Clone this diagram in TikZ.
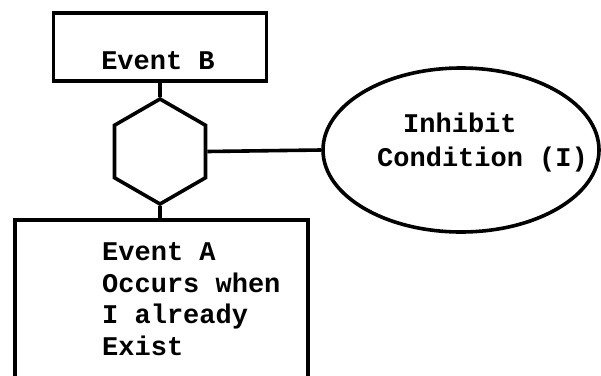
\documentclass[tikz,border=0pt]{standalone}
\usepackage{fontspec}
\setmonofont{Liberation Mono}
\usetikzlibrary{shapes.geometric}
\begin{document}
\begin{tikzpicture}[x=1pt,y=-1pt,
  outline/.style={draw=black,line width=3.6pt},
  eventbox/.style={outline,rectangle,inner sep=0pt},
  gatehex/.style={outline,regular polygon,regular polygon sides=6,
    shape border rotate=30,minimum size=105pt,inner sep=0pt},
  condoval/.style={outline,ellipse,inner sep=0pt},
  wire/.style={line width=3.6pt},
  label/.style={font=\ttfamily\bfseries\fontsize{27}{32}\selectfont,inner sep=0pt}]
\useasboundingbox (0,0) rectangle (601,375);
% top event
\node[eventbox,minimum width=213pt,minimum height=68pt] (evB) at (160,47) {};
\node[label,anchor=base] (evBtxt) at (158,69) {Event B};
% inhibit gate
\node[gatehex] (gate) at (160,151.5) {};
% inhibit condition
\node[condoval,minimum width=276pt,minimum height=164pt] (cond) at (461,150) {};
\node[label,anchor=base west] (condA) at (403,132) {Inhibit};
\node[label,anchor=base west] (condB) at (377,166) {Condition (I)};
% lower event, running off the bottom edge
\node[eventbox,minimum width=293pt,minimum height=200pt] (evA) at (161.5,320) {};
\node[label,anchor=base west] (evA1) at (102,260) {Event A};
\node[label,anchor=base west] (evA2) at (102,292) {Occurs when};
\node[label,anchor=base west] (evA3) at (102,323) {I already};
\node[label,anchor=base west] (evA4) at (102,355) {Exist};
% connectors
\draw[wire] (evB.south) -- (gate.north);
\draw[wire] (gate.south) -- (gate.south |- evA.north);
\draw[wire] (gate.east) -- (cond.west);
\end{tikzpicture}
\end{document}
